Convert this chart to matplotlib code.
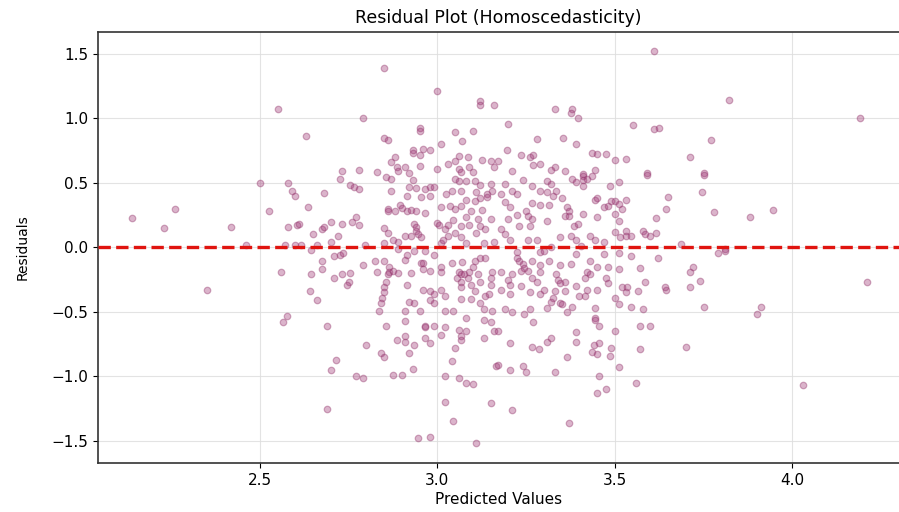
import matplotlib.pyplot as plt
import numpy as np

# (predicted value, residual) pairs
points = [
    (2.14, 0.23), (2.23, 0.15), (2.26, 0.30), (2.35, -0.33), (2.42, 0.16), (2.46, 0.02),
    (2.50, 0.50), (2.58, 0.50), (2.59, 0.44), (2.60, 0.40), (2.525, 0.28), (2.58, 0.155),
    (2.605, 0.17), (2.57, 0.02), (2.60, 0.02), (2.56, -0.19), (2.575, -0.53), (2.565, -0.58),
    (2.55, 1.07),
    # upper band
    (2.85, 1.39), (3.00, 1.21), (3.12, 1.135), (3.12, 1.10), (3.16, 1.10), (2.79, 1.00),
    (2.63, 0.86), (2.85, 0.85), (2.86, 0.83), (2.95, 0.925), (2.95, 0.90), (3.05, 0.89),
    (3.10, 0.90), (3.01, 0.80), (3.07, 0.82), (2.93, 0.755), (2.96, 0.76), (2.98, 0.755),
    (2.93, 0.73), (2.95, 0.715), (2.88, 0.70), (2.87, 0.66), (3.06, 0.71), (3.085, 0.70),
    (3.125, 0.68), (3.15, 0.67), (3.17, 0.67), (3.05, 0.67), (3.03, 0.645), (2.885, 0.62),
    (2.91, 0.62), (2.95, 0.63), (3.00, 0.61), (3.06, 0.61), (3.09, 0.62), (3.16, 0.62),
    (2.73, 0.59), (2.78, 0.60), (2.83, 0.58), (2.89, 0.59), (2.92, 0.575), (3.065, 0.58),
    (3.10, 0.58),
    (3.61, 1.52), (3.33, 1.07), (3.38, 1.07), (3.375, 1.04), (3.395, 1.00), (3.20, 0.955),
    (3.55, 0.95), (3.61, 0.92), (3.625, 0.925), (3.28, 0.84), (3.355, 0.85), (3.39, 0.80),
    (3.195, 0.755), (3.235, 0.715), (3.26, 0.70), (3.27, 0.715), (3.435, 0.73), (3.45, 0.72),
    (3.475, 0.72), (3.50, 0.68), (3.53, 0.685), (3.71, 0.70), (3.27, 0.64), (3.29, 0.645),
    (3.33, 0.62), (3.32, 0.60), (3.36, 0.59), (3.21, 0.59), (3.445, 0.60), (3.59, 0.575),
    (3.41, 0.57),
    (3.82, 1.14), (4.19, 1.00), (3.77, 0.83), (3.75, 0.575),
    # middle left
    (2.725, 0.53), (2.755, 0.48), (2.765, 0.47), (2.78, 0.45), (2.68, 0.42), (2.855, 0.545),
    (2.87, 0.53), (2.93, 0.52), (2.87, 0.44), (2.92, 0.47), (2.94, 0.46), (2.965, 0.45),
    (2.98, 0.47), (2.99, 0.47), (2.915, 0.40), (2.955, 0.39), (2.98, 0.395), (3.05, 0.53),
    (3.06, 0.51), (3.08, 0.51), (3.105, 0.51), (3.12, 0.48), (3.15, 0.49), (3.04, 0.435),
    (3.025, 0.41), (3.065, 0.435), (3.11, 0.43), (3.14, 0.41), (3.155, 0.44), (3.12, 0.38),
    (3.14, 0.39),
    (2.635, 0.31), (2.61, 0.18), (2.65, 0.10), (2.675, 0.14), (2.68, 0.155), (2.70, 0.195),
    (2.72, 0.09), (2.73, 0.18), (2.76, 0.195), (2.77, 0.235), (2.78, 0.17), (2.85, 0.15),
    (2.86, 0.30), (2.86, 0.28), (2.88, 0.28), (2.895, 0.33), (2.90, 0.305), (2.915, 0.28),
    (2.925, 0.29), (2.94, 0.28), (2.965, 0.265), (2.935, 0.18), (2.94, 0.155), (2.94, 0.125),
    (2.945, 0.10), (2.955, 0.08), (2.925, 0.085), (2.91, 0.085), (2.875, 0.06), (2.86, 0.11),
    (2.89, 0.04), (2.85, 0.03), (3.00, 0.185), (3.005, 0.17), (3.02, 0.14), (3.01, 0.31),
    (3.035, 0.32), (3.05, 0.295), (3.065, 0.32), (3.08, 0.365), (3.105, 0.355), (3.095, 0.28),
    (3.125, 0.29), (3.115, 0.22), (3.15, 0.22), (3.08, 0.235), (3.045, 0.21), (3.03, 0.17),
    (3.065, 0.165), (3.09, 0.17), (3.12, 0.165), (3.135, 0.14), (3.05, 0.11), (3.03, 0.09),
    (3.065, 0.08), (3.11, 0.11), (3.13, 0.03), (3.01, 0.03), (3.015, 0.06), (3.16, 0.04),
    (3.08, 0.03), (2.615, 0.015), (2.66, 0.015), (2.70, 0.04), (2.795, 0.015),
    (2.645, -0.02), (2.71, -0.07), (2.725, -0.06), (2.735, -0.045), (2.675, -0.11),
    (2.675, -0.17), (2.645, -0.21), (2.71, -0.235), (2.73, -0.21), (2.755, -0.20),
    (2.75, -0.265), (2.79, -0.14), (2.825, -0.11), (2.83, -0.19), (2.85, -0.11),
    (2.865, -0.15), (2.865, -0.19), (2.86, -0.21), (2.875, -0.18), (2.89, -0.20),
    (2.855, -0.265), (2.85, -0.31), (2.85, -0.35), (2.845, -0.39), (2.84, -0.43),
    (2.835, -0.49), (2.91, -0.10), (2.915, -0.06), (2.935, -0.03), (2.965, -0.03),
    (2.99, -0.06), (2.89, -0.015), (2.955, -0.12), (2.96, -0.12), (2.925, -0.20),
    (2.96, -0.17), (2.98, -0.18), (2.915, -0.29), (2.96, -0.33), (2.98, -0.34),
    (2.99, -0.36), (3.01, -0.33), (3.01, -0.155), (3.01, -0.19), (3.04, -0.12),
    (3.06, -0.19), (3.065, -0.21), (3.055, -0.24), (3.065, -0.265), (3.075, -0.21),
    (3.085, -0.235), (3.09, -0.19), (3.095, -0.29), (3.07, -0.115), (3.105, -0.11),
    (3.10, -0.155), (3.12, -0.08), (3.135, -0.08), (3.115, -0.21), (3.12, -0.265),
    (3.15, -0.29), (3.155, -0.19), (3.15, -0.235), (3.065, -0.31), (3.105, -0.34),
    (3.135, -0.38), (3.145, -0.365), (3.02, -0.375), (3.065, -0.40), (3.095, -0.40),
    (3.12, -0.435), (2.92, -0.42), (2.935, -0.43), (2.98, -0.41), (2.99, -0.43),
    (2.91, -0.49), (2.95, -0.49), (3.02, -0.49), (3.045, -0.49), (3.13, -0.48),
    (3.155, -0.49), (3.08, -0.545), (2.64, -0.34), (2.66, -0.41), (2.745, -0.295),
    # middle right
    (3.24, 0.52), (3.31, 0.51), (3.32, 0.49), (3.38, 0.53), (3.41, 0.55), (3.41, 0.52),
    (3.42, 0.53), (3.435, 0.55), (3.39, 0.505), (3.41, 0.475), (3.51, 0.505), (3.485, 0.475),
    (3.59, 0.56), (3.19, 0.49), (3.21, 0.435), (3.225, 0.41), (3.265, 0.475), (3.29, 0.435),
    (3.31, 0.43), (3.325, 0.40), (3.335, 0.44), (3.35, 0.38), (3.18, 0.41), (3.19, 0.35),
    (3.205, 0.31), (3.265, 0.34), (3.29, 0.33), (3.315, 0.33), (3.365, 0.31), (3.37, 0.28),
    (3.25, 0.28), (3.225, 0.25), (3.255, 0.24), (3.20, 0.22), (3.265, 0.22), (3.31, 0.20),
    (3.36, 0.24), (3.37, 0.24), (3.41, 0.26), (3.45, 0.235), (3.445, 0.37), (3.45, 0.38),
    (3.47, 0.31), (3.48, 0.32), (3.49, 0.355), (3.50, 0.355), (3.53, 0.37), (3.51, 0.335),
    (3.52, 0.30), (3.50, 0.255), (3.51, 0.20), (3.615, 0.225), (3.645, 0.295), (3.65, 0.39),
    (3.18, 0.14), (3.19, 0.10), (3.205, 0.06), (3.23, 0.165), (3.26, 0.165), (3.385, 0.165),
    (3.395, 0.18), (3.375, 0.09), (3.39, 0.06), (3.345, 0.08), (3.255, 0.055), (3.28, 0.055),
    (3.43, 0.085), (3.445, 0.06), (3.50, 0.115), (3.515, 0.08), (3.53, 0.085), (3.545, 0.085),
    (3.53, 0.125), (3.58, 0.125), (3.585, 0.10), (3.60, 0.085), (3.615, 0.11), (3.47, 0.04),
    (3.685, 0.025), (3.32, 0.0), (3.405, 0.01),
    (3.225, -0.04), (3.29, -0.04), (3.30, -0.03), (3.225, -0.085), (3.23, -0.11),
    (3.24, -0.13), (3.245, -0.16), (3.235, -0.18), (3.255, -0.18), (3.21, -0.21),
    (3.20, -0.25), (3.18, -0.195), (3.265, -0.11), (3.29, -0.14), (3.315, -0.11),
    (3.345, -0.14), (3.375, -0.13), (3.335, -0.21), (3.34, -0.25), (3.36, -0.265),
    (3.345, -0.275), (3.29, -0.19), (3.265, -0.235), (3.28, -0.27), (3.39, -0.055),
    (3.42, -0.19), (3.43, -0.21), (3.45, -0.155), (3.43, -0.11), (3.47, -0.055),
    (3.51, -0.045), (3.545, -0.07), (3.62, -0.08), (3.48, -0.155), (3.51, -0.17),
    (3.415, -0.235), (3.475, -0.24), (3.48, -0.28), (3.45, -0.33), (3.42, -0.33),
    (3.39, -0.30), (3.36, -0.34), (3.33, -0.34), (3.30, -0.33), (3.325, -0.39),
    (3.32, -0.42), (3.345, -0.43), (3.29, -0.365), (3.26, -0.35), (3.235, -0.30),
    (3.205, -0.29), (3.18, -0.33), (3.205, -0.365), (3.19, -0.48), (3.21, -0.50),
    (3.245, -0.52), (3.26, -0.48), (3.31, -0.47), (3.35, -0.44), (3.40, -0.38),
    (3.415, -0.38), (3.38, -0.46), (3.365, -0.50), (3.445, -0.47), (3.50, -0.39),
    (3.52, -0.31), (3.535, -0.31), (3.53, -0.35), (3.565, -0.34), (3.51, -0.44),
    (3.545, -0.46), (3.585, -0.265), (3.57, -0.16), (3.645, -0.33), (3.64, -0.31),
    (3.71, -0.31), (3.71, -0.195), (3.72, -0.155), (3.58, -0.48), (3.445, -0.55),
    (3.75, 0.56), (3.745, 0.43), (3.78, 0.27), (3.88, 0.235), (3.945, 0.29), (3.81, -0.01),
    (3.79, -0.045), (3.81, -0.03), (3.74, -0.26), (4.21, -0.265), (3.75, -0.46),
    (3.91, -0.465), (3.90, -0.52),
    # lower band
    (2.69, -0.61), (2.855, -0.61), (2.91, -0.57), (2.965, -0.61), (2.965, -0.62),
    (2.99, -0.61), (3.02, -0.62), (3.06, -0.64), (3.08, -0.65), (3.13, -0.56),
    (3.15, -0.575), (3.16, -0.645), (2.91, -0.685), (2.885, -0.715), (2.91, -0.73),
    (2.935, -0.76), (2.965, -0.70), (2.98, -0.74), (3.01, -0.68), (3.065, -0.685),
    (3.065, -0.72), (3.13, -0.70), (2.80, -0.755), (2.84, -0.82), (2.85, -0.85),
    (2.92, -0.82), (3.05, -0.78), (2.715, -0.87), (2.70, -0.95), (3.04, -0.88),
    (2.93, -0.94), (3.165, -0.92), (2.77, -1.00), (2.79, -1.01), (2.875, -0.99),
    (2.90, -0.99), (3.02, -1.00), (3.06, -1.01), (3.08, -1.05), (3.10, -1.06),
    (3.02, -1.20), (3.15, -1.205), (2.69, -1.25), (3.045, -1.345), (2.945, -1.48),
    (2.98, -1.47), (3.11, -1.52),
    (3.27, -0.58), (3.445, -0.56), (3.455, -0.61), (3.50, -0.645), (3.57, -0.61),
    (3.60, -0.61), (3.70, -0.77), (3.17, -0.65), (3.205, -0.745), (3.265, -0.77),
    (3.285, -0.785), (3.31, -0.73), (3.32, -0.70), (3.39, -0.66), (3.39, -0.73),
    (3.44, -0.755), (3.455, -0.74), (3.435, -0.815), (3.45, -0.83), (3.485, -0.84),
    (3.49, -0.78), (3.57, -0.785), (3.365, -0.85), (3.17, -0.91), (3.205, -0.95),
    (3.24, -0.92), (3.25, -0.965), (3.33, -0.965), (3.51, -0.925), (3.455, -1.00),
    (3.56, -1.05), (3.475, -1.10), (3.45, -1.13), (3.21, -1.26), (3.37, -1.36),
    (4.03, -1.07),
]

predicted = np.array([p[0] for p in points])
residuals = np.array([p[1] for p in points])

fig = plt.figure(figsize=(8.99, 5.12), dpi=100)
ax = fig.add_axes([0.109, 0.096, 0.891, 0.842])

ax.scatter(predicted, residuals, s=22, color='#a23b78', alpha=0.38,
           edgecolors='#8e2f66', linewidths=0.9, zorder=2)
ax.axhline(0, color='#e0140f', linestyle='--', linewidth=2.4, zorder=3)

ax.set_xlim(2.044, 4.30)
ax.set_ylim(-1.67, 1.67)
ax.set_xticks([2.5, 3.0, 3.5, 4.0])
ax.set_yticks([-1.5, -1.0, -0.5, 0.0, 0.5, 1.0, 1.5])
ax.grid(True, color='#dddddd', linewidth=0.8, alpha=0.8, zorder=0)
ax.set_axisbelow(True)
ax.spines['right'].set_visible(False)
for side in ['left', 'bottom', 'top']:
    ax.spines[side].set_color('#333333')
    ax.spines[side].set_linewidth(1.2)
ax.tick_params(labelsize=11)

ax.set_title('Residual Plot (Homoscedasticity)', fontsize=12.5, pad=6)
ax.set_xlabel('Predicted Values', fontsize=11, labelpad=3)
ax.set_ylabel('Residuals', fontsize=10, labelpad=16)

fig.savefig('out.png', dpi=100)
